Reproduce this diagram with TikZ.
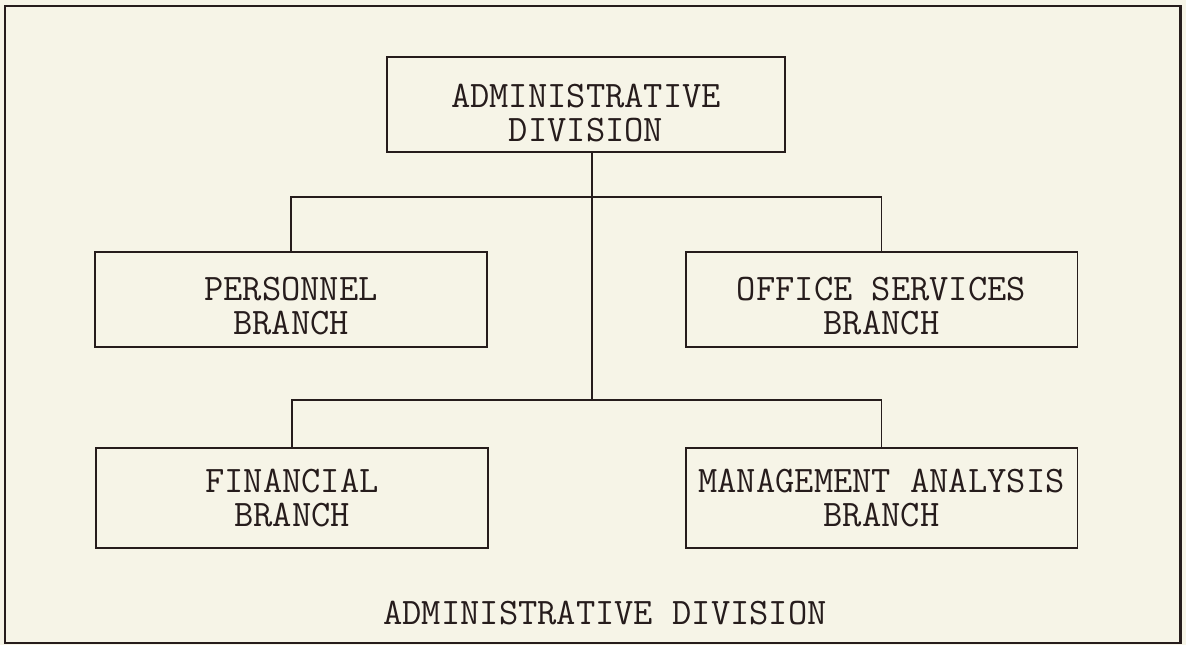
\documentclass[tikz,border=0pt]{standalone}
\usepackage{fontspec}
\definecolor{paper}{RGB}{246,244,231}
\definecolor{ink}{RGB}{38,28,28}
\newcommand{\lift}[1]{\rule{0pt}{#1}}

\begin{document}
\begin{tikzpicture}[x=0.02cm,y=-0.02cm,line width=1.1pt,draw=ink,text=ink,
    unit node/.style={draw,rectangle,inner sep=0pt,align=center,minimum width=7.84cm,minimum height=1.9cm,font=\ttfamily\fontsize{21.3}{19.5}\selectfont}]
    \fill[paper] (0,0) rectangle (1186,645);
    \draw[line width=1.7pt] (5,6) rectangle (1180,643);

    \node[unit node,minimum width=7.96cm] (div) at (586,104.5) {\lift{0.82cm}ADMINISTRATIVE\\DIVISION};
    \node[unit node] (pers) at (291,299.5) {\lift{0.74cm}PERSONNEL\\BRANCH};
    \node[unit node] (offc) at (881.5,299.5) {\lift{0.74cm}OFFICE SERVICES\\BRANCH};
    \node[unit node,minimum height=2cm] (fin) at (292,498) {FINANCIAL\\BRANCH};
    \node[unit node,minimum height=2cm] (mgmt) at (881.5,498) {MANAGEMENT ANALYSIS\\BRANCH};
    \node[font=\ttfamily\fontsize{21.3}{19.5}\selectfont] (title) at (605,613) {ADMINISTRATIVE DIVISION};

    \coordinate (fork1) at (592,197);
    \coordinate (fork2) at (592,400);

    \draw (div.south -| fork1) -- (fork2);
    \draw (pers.north) |- (fork1) -| (offc.north);
    \draw (fin.north) |- (fork2) -| (mgmt.north);
\end{tikzpicture}
\end{document}
